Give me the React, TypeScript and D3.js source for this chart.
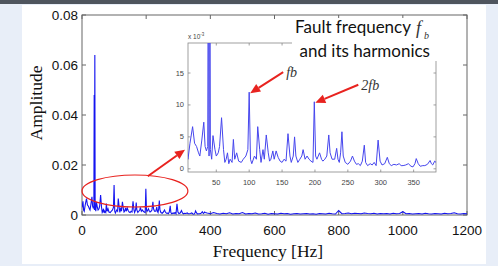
import * as d3 from "d3";

// spectrum below ~385 Hz, amplitude in units of 1e-3
const lowFreq = [
  0, 3, 5, 7, 10, 14, 17, 20, 23, 25, 28, 31, 33, 35, 37, 38, 39, 40, 41, 43, 45, 48, 50, 53, 55, 58, 61, 63,
  65, 67, 69, 71, 74, 76, 78, 81, 84, 88, 91, 95, 98, 100, 102, 104, 108, 111, 113, 116, 118, 121, 123, 126,
  129, 131, 133, 136, 138, 141, 144, 147, 150, 153, 156, 159, 162, 164, 167, 169, 171, 174, 177, 180, 182,
  185, 188, 191, 194, 197, 199, 201, 203, 205, 207, 210, 212, 215, 218, 221, 223, 226, 230, 233, 235, 237,
  239, 241, 243, 246, 250, 254, 257, 260, 263, 266, 269, 272, 275, 277, 280, 284, 287, 290, 293, 296, 299,
  302, 306, 310, 313, 316, 320, 324, 328, 331, 334, 338, 342, 346, 349, 352, 354, 357, 360, 364, 367, 371,
  375, 377, 379, 382, 384,
];
const lowAmp = [
  3, 5.5, 2, 1.5, 4, 6.6, 4, 3.5, 2.5, 2, 4.5, 7.3, 3.5, 2.8, 3.5, 48, 2, 64, 3, 1.5, 5.2, 3, 2, 2.5, 3.5, 8, 3, 1,
  1.5, 2.5, 0.8, 1.5, 1, 4.6, 1.5, 2.5, 1.2, 1, 1.5, 2, 3, 12, 1.5, 0.8, 2, 1.5, 6.6, 3, 1, 3, 1.5, 5.3,
  2.5, 1.2, 1.5, 2.8, 1.5, 2.8, 1.8, 1.2, 1, 1.5, 1.2, 5.5, 2, 1, 2, 5, 2, 1, 1.5, 2, 3,
  1.5, 2, 1.5, 1.2, 1, 10.5, 2, 1.5, 2, 2.5, 1.5, 1.2, 1.5, 2, 5.3, 2.5, 1.5, 1.5, 3.2, 1.5, 1,
  2.5, 5.8, 2, 1, 0.7, 1.2, 2, 1.2, 0.7, 0.8, 0.5, 1.2, 3.7, 1, 0.5, 0.8, 0.6, 1, 0.5, 4.5, 1.2,
  0.6, 0.8, 1.8, 0.8, 0.5, 0.7, 0.6, 0.8, 0.5, 0.5, 0.6, 0.8, 0.4, 0.3, 0.8, 1.6, 0.8, 0.4, 0.5, 0.5, 0.7,
  1.3, 0.8, 0.6, 1.2, 1,
];
// 390 .. 1200 Hz every 10 Hz, units of 1e-3
const highFreq = d3.range(390, 1201, 10);
const highAmp = [
  0.8, 0.5, 1.0, 0.6, 0.4, 0.7, 0.5, 0.9, 0.4, 0.6, 0.5,
  1.0, 0.4, 0.6, 0.5, 0.8, 0.4, 0.5, 0.7, 0.3, 0.6,
  0.5, 0.4, 0.7, 0.5, 0.6, 0.3, 0.5, 0.6, 0.4, 0.5,
  0.6, 0.4, 0.5, 0.3, 0.6, 0.5, 0.4, 0.7, 0.5, 0.4,
  1.8, 0.5, 0.6, 0.8, 0.5, 0.7, 0.6, 0.5, 0.8, 0.6,
  0.5, 0.7, 0.4, 0.6, 0.5, 0.6, 0.4, 0.7, 0.5, 0.6,
  1.3, 0.5, 0.6, 0.4, 0.5, 0.6, 0.4, 0.7, 0.5, 0.4,
  0.6, 0.5, 0.4, 0.7, 0.5, 0.6, 0.9, 0.5, 0.4, 0.6,
  0.5,
];

const xTicks = [0, 200, 400, 600, 800, 1000, 1200];
const yTicks = [0, 0.02, 0.04, 0.06, 0.08];
const yTickLabels = ["0", "0.02", "0.04", "0.06", "0.08"];
const insetXTicks = [50, 100, 150, 200, 250, 300, 350];
const insetYTicks = [0, 5, 10, 15];

type Pt = { f: number; a: number };

const lowData: Pt[] = lowFreq.map((f, i) => ({ f, a: lowAmp[i] }));
const allData: Pt[] = lowData.concat(highFreq.map((f, i) => ({ f, a: highAmp[i] })));

export default function App() {
  const width = 498;
  const height = 266;

  const x = d3.scaleLinear().domain([0, 1200]).range([82, 467]);
  const y = d3.scaleLinear().domain([0, 0.08]).range([215, 15]);

  const ix = d3.scaleLinear().domain([7, 384]).range([188, 436]);
  const iy = d3.scaleLinear().domain([-0.5, 19.7]).range([172, 43]);

  const mainLine = d3
    .line<Pt>()
    .x((d) => x(d.f))
    .y((d) => y(d.a / 1000));

  const insetLine = d3
    .line<Pt>()
    .x((d) => ix(d.f))
    .y((d) => iy(d.a));

  const red = "#e8231f";
  const axisCol = "#666";

  // arrow helper: shaft plus filled head
  const arrow = (x1: number, y1: number, x2: number, y2: number, key: string) => {
    const ang = Math.atan2(y2 - y1, x2 - x1);
    const len = 10;
    const w = 4.5;
    const bx = x2 - len * Math.cos(ang);
    const by = y2 - len * Math.sin(ang);
    const px = -Math.sin(ang) * w;
    const py = Math.cos(ang) * w;
    return (
      <g key={key}>
        <line x1={x1} y1={y1} x2={bx} y2={by} stroke={red} strokeWidth={2} />
        <polygon points={`${x2},${y2} ${bx + px},${by + py} ${bx - px},${by - py}`} fill={red} />
      </g>
    );
  };

  const fbX = ix(100);
  const fbY = iy(12);
  const f2X = ix(199);
  const f2Y = iy(10.5);

  return (
    <svg width={width} height={height} style={{ position: "absolute", left: 0, top: 0 }}>
      <defs>
        <clipPath id="mainClip">
          <rect x={82} y={15} width={385} height={201} />
        </clipPath>
        <clipPath id="insetClip">
          <rect x={188} y={43} width={248} height={129} />
        </clipPath>
      </defs>
      <rect x={0} y={0} width={width} height={height} fill="#e8eef8" />
      <rect x={0} y={0} width={width} height={4} fill="#4f555e" />
      <rect x={22} y={5} width={464} height={259} fill="#fff" />

      {/* main axes box */}
      <rect x={82} y={15} width={385} height={200} fill="none" stroke={axisCol} strokeWidth={1} />
      {xTicks.map((t) => (
        <g key={"xt" + t}>
          <line x1={x(t)} x2={x(t)} y1={215} y2={211} stroke={axisCol} />
          <line x1={x(t)} x2={x(t)} y1={15} y2={19} stroke={axisCol} />
          <text
            x={x(t)}
            y={235}
            textAnchor="middle"
            fontFamily="Liberation Sans, Arial, sans-serif"
            fontSize={13.5}
            fill="#111"
          >
            {t}
          </text>
        </g>
      ))}
      {yTicks.map((t, i) => (
        <g key={"yt" + t}>
          <line x1={82} x2={86} y1={y(t)} y2={y(t)} stroke={axisCol} />
          <line x1={467} x2={463} y1={y(t)} y2={y(t)} stroke={axisCol} />
          <text
            x={78}
            y={y(t) + 4.5}
            textAnchor="end"
            fontFamily="Liberation Sans, Arial, sans-serif"
            fontSize={13.5}
            fill="#111"
          >
            {yTickLabels[i]}
          </text>
        </g>
      ))}
      <text
        x={268}
        y={257}
        textAnchor="middle"
        fontFamily="Liberation Serif, Times New Roman, serif"
        fontSize={17.5}
        fill="#111"
      >
        Frequency [Hz]
      </text>
      <text
        transform="translate(42,103) rotate(-90)"
        textAnchor="middle"
        fontFamily="Liberation Serif, Times New Roman, serif"
        fontSize={17.5}
        fill="#111"
      >
        Amplitude
      </text>

      {/* main spectrum */}
      <g clipPath="url(#mainClip)">
        <path d={mainLine(allData) ?? ""} fill="none" stroke="#1414f0" strokeWidth={1.1} />
      </g>

      {/* red ellipse and arrow to inset */}
      <ellipse
        cx={x(165)}
        cy={y(0.0096)}
        rx={x(165) - x(0)}
        ry={y(0) - y(0.0064)}
        fill="none"
        stroke={red}
        strokeWidth={1.2}
      />
      {arrow(x(205), y(0.0155), ix(7) - 3, iy(3.0), "a0")}

      {/* inset */}
      <rect x={188} y={43} width={248} height={129} fill="#fff" stroke="#888" strokeWidth={0.8} />
      <g clipPath="url(#insetClip)">
        <path d={insetLine(lowData) ?? ""} fill="none" stroke="#4646ee" strokeWidth={1} />
      </g>
      {insetXTicks.map((t) => (
        <g key={"ixt" + t}>
          <line x1={ix(t)} x2={ix(t)} y1={172} y2={169.5} stroke="#888" strokeWidth={0.8} />
          <line x1={ix(t)} x2={ix(t)} y1={43} y2={45.5} stroke="#888" strokeWidth={0.8} />
          <text
            x={ix(t)}
            y={185}
            textAnchor="middle"
            fontFamily="Liberation Sans, Arial, sans-serif"
            fontSize={7.5}
            fill="#444"
          >
            {t}
          </text>
        </g>
      ))}
      {insetYTicks.map((t) => (
        <g key={"iyt" + t}>
          <line x1={188} x2={190.5} y1={iy(t)} y2={iy(t)} stroke="#888" strokeWidth={0.8} />
          <line x1={436} x2={433.5} y1={iy(t)} y2={iy(t)} stroke="#888" strokeWidth={0.8} />
          <text
            x={184}
            y={iy(t) + 2.5}
            textAnchor="end"
            fontFamily="Liberation Sans, Arial, sans-serif"
            fontSize={7.5}
            fill="#444"
          >
            {t}
          </text>
        </g>
      ))}
      <text x={188} y={39} fontFamily="Liberation Sans, Arial, sans-serif" fontSize={6.5} fill="#444">
        x 10
        <tspan dy={-3} fontSize={4.5}>
          -3
        </tspan>
      </text>

      {/* harmonic arrows */}
      {arrow(fbX + 34, fbY - 20, fbX + 1, fbY + 1, "a1")}
      <text
        x={fbX + 37}
        y={fbY - 15}
        fontFamily="Liberation Serif, Times New Roman, serif"
        fontStyle="italic"
        fontSize={14}
        fill="#333"
      >
        fb
      </text>
      {arrow(f2X + 44, f2Y - 17, f2X + 1, f2Y + 1, "a2")}
      <text
        x={f2X + 47}
        y={f2Y - 12}
        fontFamily="Liberation Serif, Times New Roman, serif"
        fontStyle="italic"
        fontSize={14}
        fill="#333"
      >
        2fb
      </text>

      {/* title box */}
      <rect x={292} y={18} width={147} height={43} fill="#fff" />
      <text x={411} y={33} textAnchor="end" fontFamily="Lato, sans-serif" fontSize={17} fill="#111">
        Fault frequency
      </text>
      <text
        x={416}
        y={34}
        fontFamily="Liberation Serif, Times New Roman, serif"
        fontStyle="italic"
        fontSize={18}
        fill="#333"
      >
        f
      </text>
      <text
        x={424}
        y={39}
        fontFamily="Liberation Serif, Times New Roman, serif"
        fontStyle="italic"
        fontSize={10}
        fill="#333"
      >
        b
      </text>
      <text x={430} y={57} textAnchor="end" fontFamily="Lato, sans-serif" fontSize={17} fill="#111">
        and its harmonics
      </text>
    </svg>
  );
}
